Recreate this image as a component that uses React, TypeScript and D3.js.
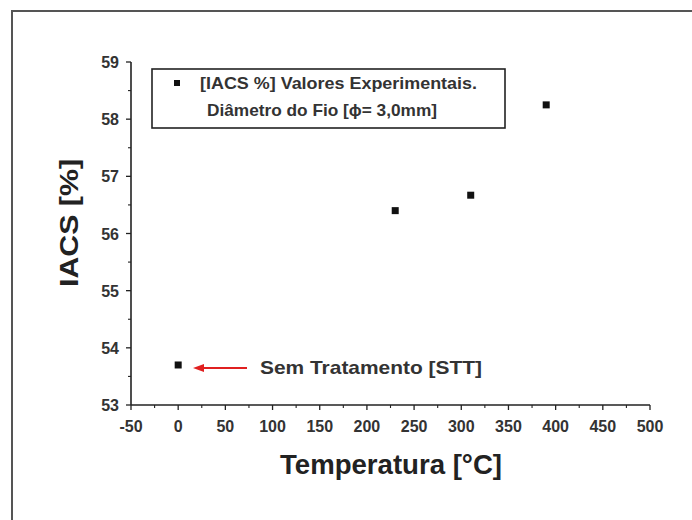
import React from "react";
import * as d3 from "d3";

const temps = [0, 230, 310, 390];
const iacs = [53.7, 56.4, 56.67, 58.25];
const xTicks = [-50, 0, 50, 100, 150, 200, 250, 300, 350, 400, 450, 500];
const yTicks = [53, 54, 55, 56, 57, 58, 59];
const legendLines = ["[IACS %] Valores Experimentais.", "Diâmetro do Fio [ϕ= 3,0mm]"];
const annotation = "Sem Tratamento [STT]";
const xTitle = "Temperatura [°C]";
const yTitle = "IACS [%]";

const FONT = "'Liberation Sans', Arial, sans-serif";

export default function App() {
  const x = d3.scaleLinear().domain([-50, 500]).range([131, 650]);
  const y = d3.scaleLinear().domain([53, 59]).range([405, 62]);
  const xMinor = d3.range(-50, 500.1, 25).filter((v) => !xTicks.includes(v));
  const yMinor = d3.range(53, 59.01, 0.5).filter((v) => !yTicks.includes(v));
  const ax = "#222";
  const ay = y(53.7) + 3;
  return (
    <svg width={692} height={520} style={{ position: "absolute", left: 0, top: 0, background: "#fff" }}>
      <rect x={0} y={0} width={692} height={520} fill="#fff" />
      <path d="M12,520 L12,11 L692,11" fill="none" stroke="#555" strokeWidth={2} />
      {/* axes */}
      <line x1={x(-50)} x2={x(500)} y1={y(53)} y2={y(53)} stroke={ax} strokeWidth={1.6} />
      <line x1={x(-50)} x2={x(-50)} y1={y(53)} y2={y(59)} stroke={ax} strokeWidth={1.6} />
      {xTicks.map((t) => (
        <g key={"xt" + t}>
          <line x1={x(t)} x2={x(t)} y1={y(53)} y2={y(53) + 5} stroke={ax} strokeWidth={1.3} />
          <text x={x(t)} y={y(53) + 27} textAnchor="middle" fontFamily={FONT} fontWeight="bold" fontSize={16} fill="#333">{t}</text>
        </g>
      ))}
      {xMinor.map((t) => (
        <line key={"xm" + t} x1={x(t)} x2={x(t)} y1={y(53)} y2={y(53) + 3} stroke={ax} strokeWidth={1.1} />
      ))}
      {yTicks.map((t) => (
        <g key={"yt" + t}>
          <line x1={x(-50) - 5} x2={x(-50)} y1={y(t)} y2={y(t)} stroke={ax} strokeWidth={1.3} />
          <text x={x(-50) - 12} y={y(t) + 6} textAnchor="end" fontFamily={FONT} fontWeight="bold" fontSize={16} fill="#333">{t}</text>
        </g>
      ))}
      {yMinor.map((t) => (
        <line key={"ym" + t} x1={x(-50) - 3} x2={x(-50)} y1={y(t)} y2={y(t)} stroke={ax} strokeWidth={1.1} />
      ))}
      {/* titles */}
      <text x={391} y={474} textAnchor="middle" fontFamily={FONT} fontWeight="bold" fontSize={28} fill="#222" textLength={222} lengthAdjust="spacingAndGlyphs">{xTitle}</text>
      <text transform={`translate(78,223) rotate(-90)`} textAnchor="middle" fontFamily={FONT} fontWeight="bold" fontSize={26} fill="#222" textLength={128} lengthAdjust="spacingAndGlyphs">{yTitle}</text>
      {/* legend */}
      <rect x={152} y={69} width={353} height={59} fill="#fff" stroke="#222" strokeWidth={1.6} />
      <rect x={174} y={80} width={6} height={6} fill="#111" />
      <text x={200} y={89} fontFamily={FONT} fontWeight="bold" fontSize={17} fill="#333" textLength={277} lengthAdjust="spacingAndGlyphs">{legendLines[0]}</text>
      <text x={207} y={116} fontFamily={FONT} fontWeight="bold" fontSize={17} fill="#333" textLength={230} lengthAdjust="spacingAndGlyphs">{legendLines[1]}</text>
      {/* points */}
      {temps.map((t, i) => (
        <rect key={"p" + i} x={x(t) - 3.5} y={y(iacs[i]) - 3.5} width={7} height={7} fill="#111" />
      ))}
      {/* annotation */}
      <line x1={247} x2={200} y1={ay} y2={ay} stroke="#e02020" strokeWidth={1.8} />
      <path d={`M${193},${ay} L${204},${ay - 4} L${204},${ay + 4} Z`} fill="#e02020" />
      <text x={260} y={ay + 6} fontFamily={FONT} fontWeight="bold" fontSize={19} fill="#333" textLength={222} lengthAdjust="spacingAndGlyphs">{annotation}</text>
    </svg>
  );
}
